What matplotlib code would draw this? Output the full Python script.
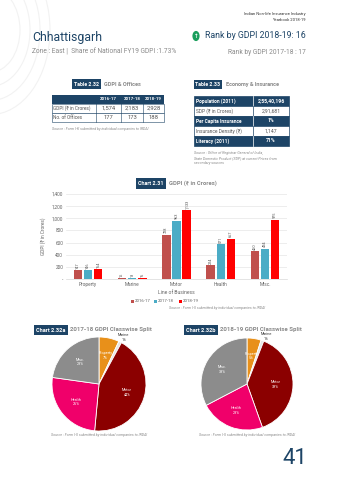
import numpy as np
import matplotlib.pyplot as plt
from matplotlib.patches import Rectangle, Circle

# datos
lineas = ['Property', 'Marine', 'Motor', 'Health', 'Misc.']
anios = ['2016-17', '2017-18', '2018-19']
gdpi_1617 = [147, 15, 728, 224, 460]
gdpi_1718 = [146, 13, 963, 571, 494]
gdpi_1819 = [164, 16, 1133, 667, 975]

tabla1_filas = ['GDPI (₹ in Crores)', 'No. of Offices']
tabla1_vals = [['1,574', '2,183', '2,928'], ['177', '173', '188']]

tabla2_filas = ['Population (2011)', 'SDP (₹ in Crores)', 'Per Capita Insurance',
                'Insurance Density (₹)', 'Literacy (2011)']
tabla2_vals = ['2,55,40,196', '2,91,681', '1%', '1,147', '71%']

pie_labels = ['Property', 'Marine', 'Motor', 'Health', 'Misc.']
pie_1718 = [7, 1, 44, 26, 23]
pie_1819 = [5, 1, 39, 23, 33]

AZUL = '#1d4466'
GRIS = '#8a8a8a'
colores_bar = ['#c0504d', '#4bacc6', '#ff0000']
colores_pie = ['#e8901a', '#e6e6e6', '#8b0000', '#f0006a', '#8c8c8c']

plt.rcParams['font.family'] = ['Roboto', 'DejaVu Sans']
W, H = 340, 480


def P(x, y):
    return x / W, 1 - y / H


def texto(x, y, s, **kw):
    fig.text(*P(x, y), s, **kw)


def caja(x, y, w, h, color):
    fig.patches.append(Rectangle(P(x, y + h), w / W, h / H, transform=fig.transFigure,
                                 facecolor=color, edgecolor='none', zorder=1))


fig = plt.figure(figsize=(3.4, 4.8), dpi=100, facecolor='white')

# arcos decorativos
for r in [30, 40, 50, 60]:
    fig.patches.append(Circle(P(-10, 30), r / W, transform=fig.transFigure, fill=False,
                              edgecolor='#f2f2f2', lw=0.8))

# cabecera
texto(306, 14, 'Indian Non-life Insurance Industry', fontsize=3, ha='right', va='center', color='#333333')
texto(306, 20, 'Yearbook 2018-19', fontsize=3, ha='right', va='center', color='#333333')
texto(32, 38, 'Chhattisgarh', fontsize=8.8, color=AZUL, va='center')
fig.patches.append(Circle(P(196, 36), 3.6 / W, transform=fig.transFigure, facecolor='#1a9e5c', edgecolor='none'))
texto(196, 36.3, '↑', fontsize=4, color='white', ha='center', va='center', fontweight='bold', family='DejaVu Sans')
texto(306, 36, 'Rank by GDPI 2018-19: 16', fontsize=6.3, color=AZUL, ha='right', va='center')
texto(32, 52, 'Zone : East |  Share of National FY19 GDPI :1.73%', fontsize=4.8, color=GRIS, va='center')
texto(306, 52, 'Rank by GDPI 2017-18 : 17', fontsize=4.8, color=GRIS, ha='right', va='center')

# Tabla 2.32
caja(72, 79, 29, 10, AZUL)
texto(86.5, 84, 'Table 2.32', fontsize=3.8, color='white', ha='center', va='center', fontweight='bold')
texto(104, 84, 'GDPI & Offices', fontsize=4, color=GRIS, va='center', fontweight='bold')
col_x = [52, 96, 121, 143, 164]
caja(52, 95, 112, 9, AZUL)
for i, a in enumerate(anios):
    texto((col_x[i + 1] + col_x[i + 2]) / 2, 99.5, a, fontsize=3.2, color='white', ha='center', va='center', fontweight='bold')
for j, fila in enumerate(tabla1_filas):
    y0 = 104 + j * 9
    fig.patches.append(Rectangle(P(52, y0 + 9), 112 / W, 9 / H, transform=fig.transFigure,
                                 facecolor='white', edgecolor=AZUL, lw=0.4))
    texto(53, y0 + 4.5, fila, fontsize=3.4, color='#555555', va='center')
    for i in range(3):
        texto((col_x[i + 1] + col_x[i + 2]) / 2, y0 + 4.5, tabla1_vals[j][i], fontsize=4.2, color='#555555', ha='center', va='center')
for cx in col_x[1:-1]:
    fig.lines.append(plt.Line2D([cx / W, cx / W], [1 - 95 / H, 1 - 122 / H], transform=fig.transFigure, color=AZUL, lw=0.4))
texto(52, 129, 'Source : Form I-K submitted by individual companies to IRDAI', fontsize=2.6, color=GRIS, style='italic', va='center')

# Tabla 2.33
caja(194, 80, 28, 9, AZUL)
texto(208, 84.5, 'Table 2.33', fontsize=3.8, color='white', ha='center', va='center', fontweight='bold')
texto(226, 84.5, 'Economy & Insurance', fontsize=4, color=GRIS, va='center', fontweight='bold')
for j, fila in enumerate(tabla2_filas):
    y0 = 96 + j * 10
    oscura = j % 2 == 0
    fig.patches.append(Rectangle(P(194, y0 + 10), 95 / W, 10 / H, transform=fig.transFigure,
                                 facecolor=AZUL if oscura else 'white', edgecolor=AZUL, lw=0.5))
    c = 'white' if oscura else '#555555'
    texto(196, y0 + 5, fila, fontsize=3.5, color=c, va='center', fontweight='bold' if oscura else 'normal')
    texto(271, y0 + 5, tabla2_vals[j], fontsize=3.7, color=c, ha='center', va='center', fontweight='bold' if oscura else 'normal')
    fig.lines.append(plt.Line2D([253 / W, 253 / W], [1 - y0 / H, 1 - (y0 + 10) / H], transform=fig.transFigure,
                                color='white' if oscura else AZUL, lw=0.5))
texto(194, 158, 'Source : Office of Registrar General of India,\nState Domestic Product (SDP) at current Prices from\nsecondary sources',
      fontsize=2.6, color=GRIS, style='italic', va='center', linespacing=1.3)

# Chart 2.31
caja(136, 178, 30, 11, AZUL)
texto(151, 183.5, 'Chart 2.31', fontsize=3.9, color='white', ha='center', va='center', fontweight='bold')
texto(169, 183.5, 'GDPI (₹ in Crores)', fontsize=4.2, color=GRIS, va='center', fontweight='bold')

ax = fig.add_axes([66 / W, 1 - 279 / H, 221 / W, 85 / H])
x = np.arange(len(lineas))
ancho = 0.19
for k, (serie, col) in enumerate(zip([gdpi_1617, gdpi_1718, gdpi_1819], colores_bar)):
    pos = x + (k - 1) * 0.23
    ax.bar(pos, serie, ancho, color=col, zorder=3)
    for xp, v in zip(pos, serie):
        ax.text(xp, v + 25, f'{v:,}', rotation=90, fontsize=2.8, ha='center', va='bottom', color='#555555')
ax.set_xlim(-0.5, 4.5)
ax.set_ylim(0, 1400)
ax.set_yticks(range(0, 1401, 200))
ax.set_yticklabels(['-' if v == 0 else f'{v:,}' for v in range(0, 1401, 200)])
ax.set_xticks(x)
ax.set_xticklabels(lineas)
ax.tick_params(labelsize=3.4, colors='#666666', length=0, pad=2)
ax.grid(axis='y', color='#e6e6e6', lw=0.5, zorder=0)
for s in ['top', 'right', 'left']:
    ax.spines[s].set_visible(False)
ax.spines['bottom'].set_color('#d9d9d9')
ax.spines['bottom'].set_linewidth(0.5)
ax.set_xlabel('Line of Business', fontsize=3.6, color='#666666', labelpad=2)
ax.set_ylabel('GDPI (₹ in Crores)', fontsize=3.4, color='#666666', labelpad=4)

# leyenda
lx = [131, 154, 179]
for i, a in enumerate(anios):
    fig.patches.append(Rectangle(P(lx[i], 302.5), 2.5 / W, 2.5 / H, transform=fig.transFigure, facecolor=colores_bar[i]))
    texto(lx[i] + 4, 301.2, a, fontsize=3.2, color='#666666', va='center')
texto(265, 307.5, 'Source : Form I-II submitted by individual companies to IRDAI', fontsize=2.6, color=GRIS, style='italic', ha='right', va='center')


def tarta(cx, cy, r, vals, titulo_box, titulo, bx):
    caja(bx, 325, 34, 10, AZUL)
    texto(bx + 17, 330, titulo_box, fontsize=4.1, color='white', ha='center', va='center', fontweight='bold')
    texto(bx + 36, 330, titulo, fontsize=4.4, color=GRIS, va='center', fontweight='bold')
    a = fig.add_axes([(cx - r) / W, 1 - (cy + r) / H, 2 * r / W, 2 * r / H])
    wedges, _ = a.pie(vals, colors=colores_pie, startangle=90, counterclock=False,
                      wedgeprops=dict(edgecolor='white', linewidth=0.6))
    a.set_aspect('auto')
    a.set_xlim(-1, 1)
    a.set_ylim(-1, 1)
    for w, lab, v in zip(wedges, pie_labels, vals):
        ang = np.deg2rad((w.theta1 + w.theta2) / 2)
        if lab == 'Marine':
            a.text(1.0 * np.cos(ang) + 0.08, 1.0 * np.sin(ang), f'{lab}\n{v}%', fontsize=2.7, ha='center', va='bottom', color='#333333')
        else:
            a.text(0.62 * np.cos(ang), 0.62 * np.sin(ang), f'{lab}\n{v}%', fontsize=2.7, ha='center', va='center', color='white')
    texto(cx, 435, 'Source : Form I-II submitted by individual companies to IRDAI', fontsize=2.6, color=GRIS, style='italic', ha='center', va='center')


tarta(99, 384, 47, pie_1718, 'Chart 2.32a', '2017-18 GDPI Classwise Split', 34)
tarta(247, 384, 46, pie_1819, 'Chart 2.32b', '2018-19 GDPI Classwise Split', 184)

texto(307, 458, '41', fontsize=16, color=AZUL, ha='right', va='center')

plt.savefig('out.png', dpi=100, facecolor='white')
